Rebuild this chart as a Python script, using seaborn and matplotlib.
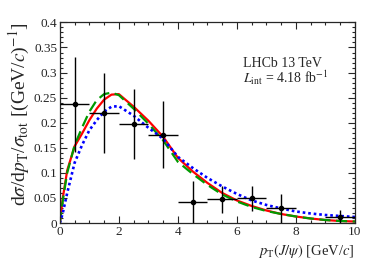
import numpy as np
import pandas as pd
import seaborn as sns
import matplotlib.pyplot as plt
from matplotlib.ticker import MultipleLocator

# measured points (bin centres, half-width 0.5 GeV/c)
pt_data = [0.5, 1.5, 2.5, 3.5, 4.5, 5.5, 6.5, 7.5, 9.5]
xs_data = [0.237, 0.219, 0.197, 0.176, 0.041, 0.047, 0.049, 0.029, 0.013]
xs_err = [0.095, 0.080, 0.070, 0.067, 0.042, 0.027, 0.025, 0.028, 0.013]
pt_err = [0.5] * len(pt_data)

# model curves
pt_curve = [0, 0.1, 0.25, 0.5, 0.75, 1.0, 1.25, 1.5, 1.75, 2.0, 2.5, 3.0, 3.5,
            4.0, 4.5, 5.0, 5.5, 6.0, 6.5, 7.0, 7.5, 8.0, 8.5, 9.0, 9.5, 10.0]
red_curve = [0, 0.05, 0.105, 0.153, 0.178, 0.205, 0.228, 0.246, 0.256, 0.257,
             0.232, 0.204, 0.172, 0.13, 0.103, 0.08, 0.06, 0.045, 0.034, 0.025,
             0.018, 0.013, 0.009, 0.006, 0.004, 0.003]
green_curve = [0, 0.045, 0.1, 0.155, 0.19, 0.222, 0.245, 0.257, 0.26, 0.255,
               0.228, 0.198, 0.165, 0.122, 0.098, 0.076, 0.057, 0.043, 0.032,
               0.024, 0.018, 0.013, 0.009, 0.006, 0.004, 0.003]
blue_curve = [0, 0.02, 0.06, 0.12, 0.155, 0.185, 0.205, 0.222, 0.232, 0.233,
              0.214, 0.19, 0.168, 0.132, 0.11, 0.09, 0.073, 0.058, 0.045, 0.036,
              0.029, 0.023, 0.019, 0.016, 0.014, 0.012]

curves = pd.DataFrame({"pt": pt_curve, "red": red_curve,
                       "green": green_curve, "blue": blue_curve})

sns.set_style("ticks")
plt.rcParams["font.family"] = ["Liberation Serif", "DejaVu Serif"]
plt.rcParams["mathtext.fontset"] = "stix"

fig = plt.figure(figsize=(3.74, 2.70), dpi=100)
ax = fig.add_axes([0.160, 0.174, 0.789, 0.743])

sns.lineplot(data=curves, x="pt", y="red", ax=ax, color="#ff0000", lw=1.6)
sns.lineplot(data=curves, x="pt", y="green", ax=ax, color="#009a00", lw=1.6,
             linestyle=(0, (5, 2.5)))
sns.lineplot(data=curves, x="pt", y="blue", ax=ax, color="#0000ff", lw=1.9,
             linestyle=(0, (1, 1.1)))

ax.errorbar(pt_data, xs_data, xerr=pt_err, yerr=xs_err, fmt="o", color="black",
            ms=3, elinewidth=1, capsize=0, zorder=5)

ax.set_xlim(0, 10)
ax.set_ylim(0, 0.4)
ax.xaxis.set_major_locator(MultipleLocator(2))
ax.xaxis.set_minor_locator(MultipleLocator(0.5))
ax.yaxis.set_minor_locator(MultipleLocator(0.01))
ax.set_yticks([0, 0.05, 0.1, 0.15, 0.2, 0.25, 0.3, 0.35, 0.4])
ax.set_yticklabels(["0", "0.05", "0.1", "0.15", "0.2", "0.25", "0.3", "0.35", "0.4"])
ax.tick_params(which="both", direction="in", top=True, right=True,
               labelsize=9.5, width=0.8)
ax.tick_params(which="major", length=5, pad=2)
ax.tick_params(which="minor", length=2.5)
for s in ax.spines.values():
    s.set_linewidth(0.9)

ax.set_xlabel(r"$p_{\mathrm{T}}(J/\psi)$ [GeV/$c$]", fontsize=10.5, loc="right",
              labelpad=3)
ax.set_ylabel(r"d$\sigma$/d$p_{\mathrm{T}}$/$\sigma_{\mathrm{tot}}$ [(GeV/$c$)$^{-1}$]",
              fontsize=14, loc="top", labelpad=1)

ax.text(0.62, 0.78, "LHCb 13 TeV", transform=ax.transAxes, fontsize=10)
ax.text(0.62, 0.695, r"$L_{\mathrm{int}}$ = 4.18 fb$^{-1}$", transform=ax.transAxes,
        fontsize=10)

fig.savefig("out.png", dpi=100)
